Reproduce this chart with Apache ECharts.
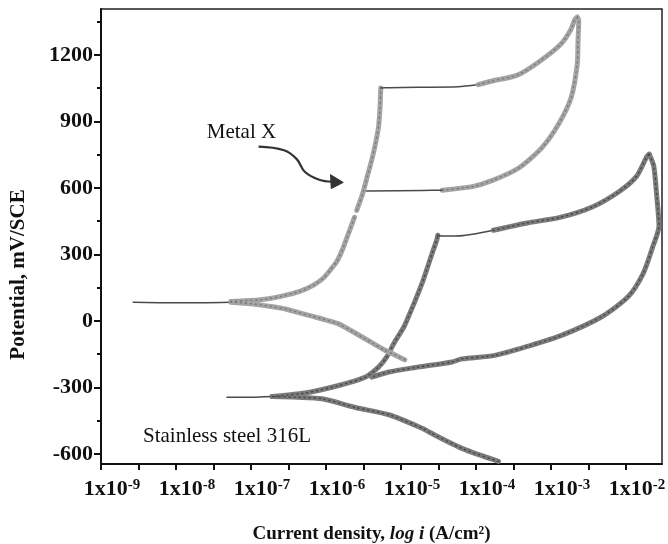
<!DOCTYPE html>
<html><head><meta charset="utf-8">
<script src="https://cdn.jsdelivr.net/npm/echarts@6/dist/echarts.min.js"></script>
<style>html,body{margin:0;padding:0;background:#fff}#c{width:668px;height:544px}</style>
</head><body><div id="c"></div>
<script>
// x = log10 of current density (A/cm2), y = potential (mV vs SCE)
const xTickLabels = [-9, -8, -7, -6, -5, -4, -3, -2];
const xTicks = [-9, -8.5, -8, -7.5, -7, -6.5, -6, -5.5, -5, -4.5, -4, -3.5, -3, -2.5, -2];
const yTickLabels = [-600, -300, 0, 300, 600, 900, 1200];
const yMinorTicks = [-450, -150, 150, 450, 750, 1050, 1350];

// Metal X
const metalXCathodic = [[-4.95,-175],[-5.08,-153],[-5.22,-131],[-5.49,-78],[-5.84,-12],[-6.06,10],[-6.29,31],[-6.53,53],[-6.73,65],[-7.00,78],[-7.27,85]];
const metalXTail = [[-7.27,85],[-7.93,82],[-8.57,84]];
const metalXActive = [[-7.27,88],[-6.87,96],[-6.60,111],[-6.34,135],[-6.16,163],[-6.03,195],[-5.94,231],[-5.85,272],[-5.78,322],[-5.72,377],[-5.67,422],[-5.62,468]];
const metalXPassive = [[-5.59,499],[-5.51,576],[-5.45,651],[-5.39,726],[-5.34,800],[-5.30,875],[-5.28,961],[-5.27,1051]];
const metalXTopThin = [[-5.27,1051],[-5.17,1052],[-4.77,1054],[-4.24,1056],[-3.97,1066]];
const metalXTopRise = [[-3.97,1066],[-3.80,1081],[-3.44,1110],[-3.14,1174],[-2.87,1248],[-2.74,1311],[-2.68,1361],[-2.65,1370]];
const metalXReverse = [[-2.65,1370],[-2.63,1357],[-2.64,1258],[-2.65,1158],[-2.73,1009],[-2.90,887],[-3.12,782],[-3.43,690],[-3.78,634],[-4.05,606],[-4.45,590]];
const metalXReverseThin = [[-4.45,590],[-4.71,589],[-5.46,586]];

// Stainless steel 316L
const steelCathodic = [[-3.70,-633],[-4.17,-577],[-4.62,-502],[-4.71,-485],[-5.15,-424],[-5.61,-390],[-6.05,-351],[-6.38,-344],[-6.72,-341]];
const steelTail = [[-6.72,-341],[-6.98,-344],[-7.32,-344]];
const steelActive = [[-6.72,-341],[-6.28,-325],[-5.83,-291],[-5.48,-254],[-5.30,-208],[-5.19,-162],[-5.09,-98],[-4.96,-26],[-4.90,20],[-4.80,101],[-4.70,188],[-4.58,310],[-4.52,369],[-4.51,387]];
const steelTopThin = [[-4.51,387],[-4.44,383],[-4.21,384],[-3.77,409]];
const steelTopRise = [[-3.77,409],[-3.32,442],[-2.88,467],[-2.45,514],[-2.09,584],[-1.86,652],[-1.72,743],[-1.69,752]];
const steelReverse = [[-1.69,752],[-1.63,699],[-1.59,563],[-1.56,428],[-1.64,338],[-1.77,215],[-1.97,110],[-2.33,18],[-2.86,-65],[-3.30,-113],[-3.75,-155],[-4.19,-171],[-4.32,-185],[-4.81,-210],[-5.16,-230],[-5.39,-253]];

// annotations (data coordinates)
const labelMetalX = { text: 'Metal X', at: [-7.59, 850] };
const labelSteel = { text: 'Stainless steel 316L', at: [-8.44, -520] };
const arrowPath = [[-6.90,786],[-6.56,770],[-6.39,730],[-6.28,672],[-6.09,637],[-5.92,628]];
const arrowHead = [[-5.77,625],[-5.94,660],[-5.93,597]];

const serif = '"Liberation Serif", "Times New Roman", serif';
const chart = echarts.init(document.getElementById('c'), null, { renderer: 'canvas' });

function line(data, color, width, z, dash, opacity) {
  return { type: 'line', data: data, showSymbol: false, smooth: 0.25, silent: true, z: z || 2,
    lineStyle: { color: color, width: width, cap: 'round', join: 'round', type: dash || 'solid', opacity: opacity == null ? 1 : opacity } };
}
// thick band with speckled core
function band(data, base, speck, z) {
  return [line(data, base, 5, z), line(data, speck, 1.4, z + 0.1, [1, 4], 0.75)];
}
const MX = '#a4a4a4', MXS = '#6a6a6a', ST = '#7a7a7a', STS = '#333333', THIN = '#4a4a4a';

chart.setOption({
  animation: false,
  grid: { left: 101, right: 6, top: 9, bottom: 80, show: true, borderColor: '#222', borderWidth: 1.5, outerBoundsMode: 'none', containLabel: false },
  xAxis: {
    type: 'value', min: -9, max: -1.52,
    axisLine: { show: true, onZero: false, lineStyle: { color: '#111', width: 2 } },
    axisTick: { show: true, inside: false, length: 6, customValues: xTicks, lineStyle: { color: '#111', width: 2 } },
    axisLabel: {
      customValues: xTickLabels, margin: 14, padding: [0, 0, 0, 22],
      formatter: function (v) { return '{b|1x10}{s|' + v + '}'; },
      rich: {
        b: { fontFamily: serif, fontWeight: 'bold', fontSize: 22, color: '#111' },
        s: { fontFamily: serif, fontWeight: 'bold', fontSize: 15, color: '#111', verticalAlign: 'top' }
      }
    },
    splitLine: { show: false },
    name: '{n|Current density, }{i|log i}{n| (A/cm²)}', nameLocation: 'middle', nameGap: 61,
    nameTextStyle: {
      padding: [0, 20, 0, 0],
      rich: {
        n: { fontFamily: serif, fontWeight: 'bold', fontSize: 19, color: '#111' },
        i: { fontFamily: serif, fontWeight: 'bold', fontStyle: 'italic', fontSize: 19, color: '#111' }
      }
    }
  },
  yAxis: [{
    type: 'value', min: -645, max: 1407,
    axisLine: { show: true, onZero: false, lineStyle: { color: '#111', width: 2 } },
    axisTick: { show: true, length: 7, customValues: yTickLabels, lineStyle: { color: '#111', width: 2 } },
    axisLabel: { customValues: yTickLabels, margin: 8, fontFamily: serif, fontWeight: 'bold', fontSize: 22, color: '#111',
      formatter: function (v) { return String(v); } },
    splitLine: { show: false },
    name: 'Potential, mV/SCE', nameLocation: 'middle', nameGap: 72,
    nameTextStyle: { fontFamily: serif, fontWeight: 'bold', fontSize: 21, color: '#111', padding: [0, 76, 0, 0] }
  }, {
    type: 'value', min: -645, max: 1407, position: 'left',
    axisLine: { show: false },
    axisTick: { show: true, length: 4, customValues: yMinorTicks, lineStyle: { color: '#111', width: 2 } },
    axisLabel: { show: false },
    splitLine: { show: false }
  }],
  series: [].concat(
    band(steelCathodic, ST, STS, 2), [line(steelTail, THIN, 1.5)], band(steelActive, ST, STS, 2),
    [line(steelTopThin, THIN, 1.6)], band(steelTopRise, ST, STS, 2), band(steelReverse, ST, STS, 2),
    band(metalXCathodic, MX, MXS, 3), [line(metalXTail, THIN, 1.5, 3)], band(metalXActive, MX, MXS, 3),
    band(metalXPassive, MX, MXS, 3), [line(metalXTopThin, THIN, 1.5, 3)], band(metalXTopRise, MX, MXS, 3),
    band(metalXReverse, MX, MXS, 3), [line(metalXReverseThin, THIN, 1.5, 3)]
  )
});

function px(p) { return chart.convertToPixel({ gridIndex: 0 }, p); }
const mxPos = px(labelMetalX.at), stPos = px(labelSteel.at);
chart.setOption({
  graphic: [
    { type: 'text', x: mxPos[0], y: mxPos[1], style: { text: labelMetalX.text, fontFamily: serif, fontSize: 21, fill: '#111', textAlign: 'left', textVerticalAlign: 'middle' } },
    { type: 'text', x: stPos[0], y: stPos[1], style: { text: labelSteel.text, fontFamily: serif, fontSize: 21, fill: '#111', textAlign: 'left', textVerticalAlign: 'middle' } },
    { type: 'polyline', shape: { points: arrowPath.map(px), smooth: 0.4 }, style: { stroke: '#333', lineWidth: 2.2, fill: null } },
    { type: 'polygon', shape: { points: arrowHead.map(px) }, style: { fill: '#333', stroke: '#333', lineWidth: 1 } }
  ]
});
</script></body></html>
